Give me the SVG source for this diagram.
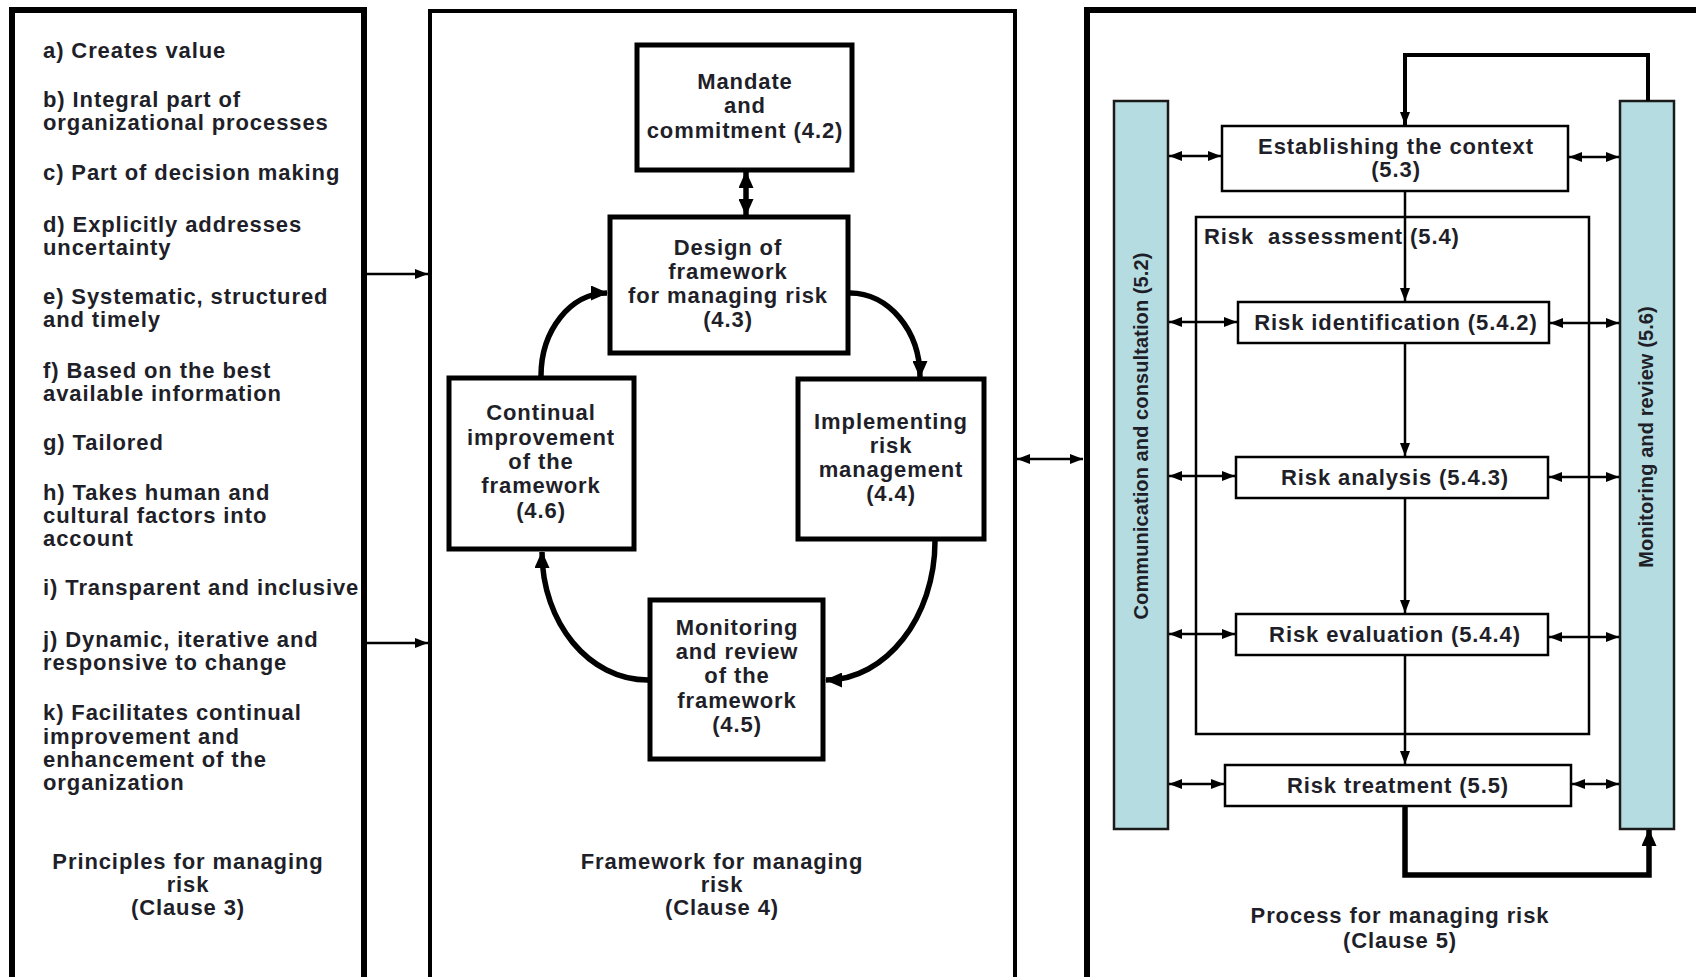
<svg xmlns="http://www.w3.org/2000/svg" width="1696" height="977" viewBox="0 0 1696 977">
<style>
.t{font-family:"Liberation Sans",Arial,Helvetica,sans-serif;font-weight:bold;font-size:22px;fill:#1f1f29;letter-spacing:0.9px}
.c{text-anchor:middle}
.v{font-size:20px;letter-spacing:0.1px}
.panel{fill:none;stroke:#000}
.box{fill:#fff;stroke:#000;stroke-width:5}
.pbox{fill:#fff;stroke:#000;stroke-width:2.5}
.bar{fill:#b5dce0;stroke:#1a1a1a;stroke-width:2.5}
.thin{fill:none;stroke:#000;stroke-width:2.5}
.thick{fill:none;stroke:#000;stroke-width:5.5}
</style>
<defs>
<marker id="ah" viewBox="0 0 13 10" refX="13" refY="5" markerWidth="13" markerHeight="10" markerUnits="userSpaceOnUse" orient="auto-start-reverse">
<path d="M0,0 L13,5 L0,10 Z" fill="#000"/>
</marker>
<marker id="ahb" viewBox="0 0 17 15" refX="16" refY="7.5" markerWidth="17" markerHeight="15" markerUnits="userSpaceOnUse" orient="auto-start-reverse">
<path d="M0,0 L17,7.5 L0,15 Z" fill="#000"/>
</marker>
</defs>
<rect width="1696" height="977" fill="#fff"/>

<g id="panel-principles">
<rect class="panel" x="12" y="10" width="352" height="980" stroke-width="6"/>
<text class="t" x="43" y="58">a) Creates value</text>
<text class="t" x="43" y="107">b) Integral part of</text>
<text class="t" x="43" y="130">organizational processes</text>
<text class="t" x="43" y="180">c) Part of decision making</text>
<text class="t" x="43" y="232">d) Explicitly addresses</text>
<text class="t" x="43" y="255">uncertainty</text>
<text class="t" x="43" y="304">e) Systematic, structured</text>
<text class="t" x="43" y="327">and timely</text>
<text class="t" x="43" y="378">f) Based on the best</text>
<text class="t" x="43" y="401">available information</text>
<text class="t" x="43" y="450">g) Tailored</text>
<text class="t" x="43" y="500">h) Takes human and</text>
<text class="t" x="43" y="523">cultural factors into</text>
<text class="t" x="43" y="546">account</text>
<text class="t" x="43" y="595">i) Transparent and inclusive</text>
<text class="t" x="43" y="647">j) Dynamic, iterative and</text>
<text class="t" x="43" y="670">responsive to change</text>
<text class="t" x="43" y="720">k) Facilitates continual</text>
<text class="t" x="43" y="744">improvement and</text>
<text class="t" x="43" y="767">enhancement of the</text>
<text class="t" x="43" y="790">organization</text>
<text class="t c" x="188" y="869">Principles for managing</text>
<text class="t c" x="188" y="892">risk</text>
<text class="t c" x="188" y="915">(Clause 3)</text>
</g>

<g id="panel-framework">
<rect class="panel" x="430" y="11" width="585" height="980" stroke-width="4"/>
<text class="t c" x="722" y="869">Framework for managing</text>
<text class="t c" x="722" y="892">risk</text>
<text class="t c" x="722" y="915">(Clause 4)</text>
</g>

<g id="node-mandate">
<rect class="box" x="637" y="45" width="215" height="125"/>
<text class="t c" x="745" y="89">Mandate</text>
<text class="t c" x="745" y="113">and</text>
<text class="t c" x="745" y="138">commitment (4.2)</text>
</g>

<g id="node-design">
<rect class="box" x="610" y="217" width="238" height="136"/>
<text class="t c" x="728" y="255">Design of</text>
<text class="t c" x="728" y="279">framework</text>
<text class="t c" x="728" y="303">for managing risk</text>
<text class="t c" x="728" y="327">(4.3)</text>
</g>

<g id="node-continual">
<rect class="box" x="449" y="378" width="185" height="171"/>
<text class="t c" x="541" y="420">Continual</text>
<text class="t c" x="541" y="445">improvement</text>
<text class="t c" x="541" y="469">of the</text>
<text class="t c" x="541" y="493">framework</text>
<text class="t c" x="541" y="518">(4.6)</text>
</g>

<g id="node-implementing">
<rect class="box" x="798" y="379" width="186" height="160"/>
<text class="t c" x="891" y="429">Implementing</text>
<text class="t c" x="891" y="453">risk</text>
<text class="t c" x="891" y="477">management</text>
<text class="t c" x="891" y="501">(4.4)</text>
</g>

<g id="node-monitoring-framework">
<rect class="box" x="650" y="600" width="173" height="159"/>
<text class="t c" x="737" y="635">Monitoring</text>
<text class="t c" x="737" y="659">and review</text>
<text class="t c" x="737" y="683">of the</text>
<text class="t c" x="737" y="708">framework</text>
<text class="t c" x="737" y="732">(4.5)</text>
</g>

<g id="panel-process">
<rect class="panel" x="1087" y="10" width="700" height="980" stroke-width="6"/>
<text class="t c" x="1400" y="923">Process for managing risk</text>
<text class="t c" x="1400" y="948">(Clause 5)</text>
</g>

<g id="node-communication">
<rect class="bar" x="1114" y="101" width="54" height="728"/>
<text class="t c v" transform="translate(1148,436) rotate(-90)">Communication and consultation (5.2)</text>
</g>

<g id="node-monitoring-review">
<rect class="bar" x="1620" y="101" width="54" height="728"/>
<text class="t c v" transform="translate(1653,437) rotate(-90)">Monitoring and review (5.6)</text>
</g>

<g id="node-risk-assessment">
<rect class="thin" x="1196" y="217" width="393" height="517"/>
<text class="t" x="1204" y="244" xml:space="preserve" style="white-space:pre">Risk  assessment (5.4)</text>
</g>

<g id="node-context">
<rect class="pbox" x="1222" y="126" width="346" height="65"/>
<text class="t c" x="1396" y="154">Establishing the context</text>
<text class="t c" x="1396" y="177">(5.3)</text>
</g>

<g id="node-identification">
<rect class="pbox" x="1238" y="302" width="311" height="41"/>
<text class="t c" x="1396" y="330">Risk identification (5.4.2)</text>
</g>

<g id="node-analysis">
<rect class="pbox" x="1236" y="457" width="312" height="41"/>
<text class="t c" x="1395" y="485">Risk analysis (5.4.3)</text>
</g>

<g id="node-evaluation">
<rect class="pbox" x="1236" y="614" width="312" height="41"/>
<text class="t c" x="1395" y="642">Risk evaluation (5.4.4)</text>
</g>

<g id="node-treatment">
<rect class="pbox" x="1225" y="765" width="346" height="41"/>
<text class="t c" x="1398" y="793">Risk treatment (5.5)</text>
</g>

<g id="connectors">
<line class="thin" x1="367" y1="274" x2="428" y2="274" marker-end="url(#ah)"/>
<line class="thin" x1="367" y1="643" x2="428" y2="643" marker-end="url(#ah)"/>
<line class="thin" x1="1017" y1="459" x2="1083" y2="459" marker-start="url(#ah)" marker-end="url(#ah)"/>

<line class="thick" x1="746" y1="172" x2="746" y2="215" marker-start="url(#ahb)" marker-end="url(#ahb)"/>
<path class="thick" d="M541,376 C541,330 571,293 607,293" marker-end="url(#ahb)"/>
<path class="thick" d="M850,293 C888,293 920,330 920,377" marker-end="url(#ahb)"/>
<path class="thick" d="M935,541 C935,617 886,680 826,680" marker-end="url(#ahb)"/>
<path class="thick" d="M648,680 C589,680 542,623 542,552" marker-end="url(#ahb)"/>

<line class="thin" x1="1405" y1="191" x2="1405" y2="301" marker-end="url(#ah)"/>
<line class="thin" x1="1405" y1="343" x2="1405" y2="456" marker-end="url(#ah)"/>
<line class="thin" x1="1405" y1="498" x2="1405" y2="613" marker-end="url(#ah)"/>
<line class="thin" x1="1405" y1="655" x2="1405" y2="764" marker-end="url(#ah)"/>

<path fill="none" stroke="#000" stroke-width="4" d="M1648,101 L1648,55 L1405,55 L1405,125" marker-end="url(#ah)"/>
<path class="thick" d="M1405,806 L1405,875 L1649,875 L1649,830" marker-end="url(#ahb)"/>

<line class="thin" x1="1169" y1="156" x2="1221" y2="156" marker-start="url(#ah)" marker-end="url(#ah)"/>
<line class="thin" x1="1569" y1="157" x2="1619" y2="157" marker-start="url(#ah)" marker-end="url(#ah)"/>
<line class="thin" x1="1169" y1="322" x2="1237" y2="322" marker-start="url(#ah)" marker-end="url(#ah)"/>
<line class="thin" x1="1550" y1="323" x2="1619" y2="323" marker-start="url(#ah)" marker-end="url(#ah)"/>
<line class="thin" x1="1169" y1="476" x2="1235" y2="476" marker-start="url(#ah)" marker-end="url(#ah)"/>
<line class="thin" x1="1549" y1="477" x2="1619" y2="477" marker-start="url(#ah)" marker-end="url(#ah)"/>
<line class="thin" x1="1169" y1="634" x2="1235" y2="634" marker-start="url(#ah)" marker-end="url(#ah)"/>
<line class="thin" x1="1549" y1="637" x2="1619" y2="637" marker-start="url(#ah)" marker-end="url(#ah)"/>
<line class="thin" x1="1169" y1="784" x2="1224" y2="784" marker-start="url(#ah)" marker-end="url(#ah)"/>
<line class="thin" x1="1572" y1="784" x2="1619" y2="784" marker-start="url(#ah)" marker-end="url(#ah)"/>
</g>
</svg>
